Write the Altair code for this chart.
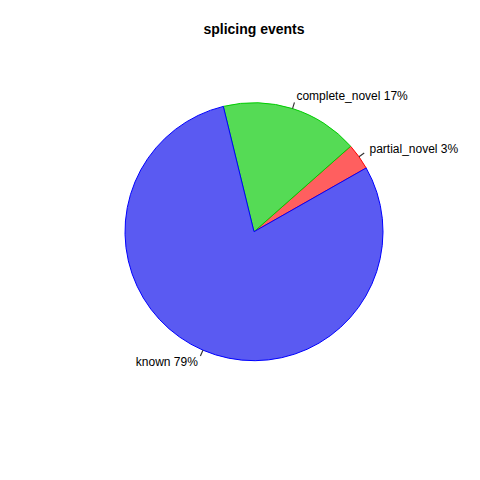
import math
import altair as alt
import pandas as pd

categories = ["known", "complete_novel", "partial_novel"]
values = [79.4, 17.3, 3.3]
labels = ["known 79%", "complete_novel 17%", "partial_novel 3%"]
position = [0, 1, 2]          # clockwise order from start angle
draw_order = [3, 2, 1]

fills = ["#5a5af2", "#55db55", "#ff5f5f"]
strokes = ["#0000ff", "#00cd00", "#ff0000"]

df = pd.DataFrame({
    "cat": categories,
    "value": values,
    "label": labels,
    "pos": position,
    "draw": draw_order,
})

START = math.radians(60.4)
CX, CY = 246, 183.7
R = 129

theta_scale = alt.Scale(domain=[0, 100], range=[START, START + 2 * math.pi])
color_scale = alt.Scale(domain=categories, range=fills)
stroke_scale = alt.Scale(domain=categories, range=strokes)

base = (
    alt.Chart(df)
    .transform_joinaggregate(total="sum(value)")
    .transform_calculate(pct="100 * datum.value / datum.total")
    .transform_window(cum="sum(pct)", sort=[alt.SortField("pos")])
    .transform_calculate(
        start="datum.cum - datum.pct",
        end="datum.cum",
        mid="datum.cum - datum.pct / 2",
    )
    .transform_calculate(
        t0="datum.mid - 0.07",
        t1="datum.mid + 0.07",
        ang=f"{START} + datum.mid / 100 * 2 * PI",
    )
)

center = dict(x=alt.value(CX), y=alt.value(CY))

slices = base.mark_arc(radius=R, strokeWidth=1).encode(
    theta=alt.Theta("start:Q", scale=theta_scale, stack=False),
    theta2="end:Q",
    fill=alt.Fill("cat:N", scale=color_scale, legend=None),
    stroke=alt.Stroke("cat:N", scale=stroke_scale, legend=None),
    order=alt.Order("draw:Q"),
    **center,
)

ticks = base.mark_arc(radius=R * 1.05, radius2=R, color="#333333").encode(
    theta=alt.Theta("t0:Q", scale=theta_scale, stack=False),
    theta2="t1:Q",
    **center,
)

txt_kw = dict(radius=R * 1.1, fontSize=12, font="Liberation Sans",
              baseline="middle", color="black")

text_right_side = base.transform_filter("sin(datum.ang) >= 0").mark_text(
    align="left", **txt_kw
).encode(
    theta=alt.Theta("mid:Q", scale=theta_scale, stack=False),
    text="label:N",
    **center,
)

text_left_side = base.transform_filter("sin(datum.ang) < 0").mark_text(
    align="right", **txt_kw
).encode(
    theta=alt.Theta("mid:Q", scale=theta_scale, stack=False),
    text="label:N",
    **center,
)

chart = (
    alt.layer(slices, ticks, text_right_side, text_left_side)
    .properties(
        width=464,
        height=424,
        padding={"left": 0, "top": 40, "right": 0, "bottom": 0},
        autosize=alt.AutoSizeParams(type="none"),
        background="white",
        title=alt.TitleParams(
            "splicing events",
            fontSize=14,
            font="Liberation Sans",
            fontWeight="bold",
            anchor="middle",
            frame="group",
            dx=14,
            offset=0,
            baseline="alphabetic",
            color="black",
        ),
    )
    .configure_view(stroke=None)
)

chart.save("out.html", embed_options={"renderer": "svg", "actions": False})
